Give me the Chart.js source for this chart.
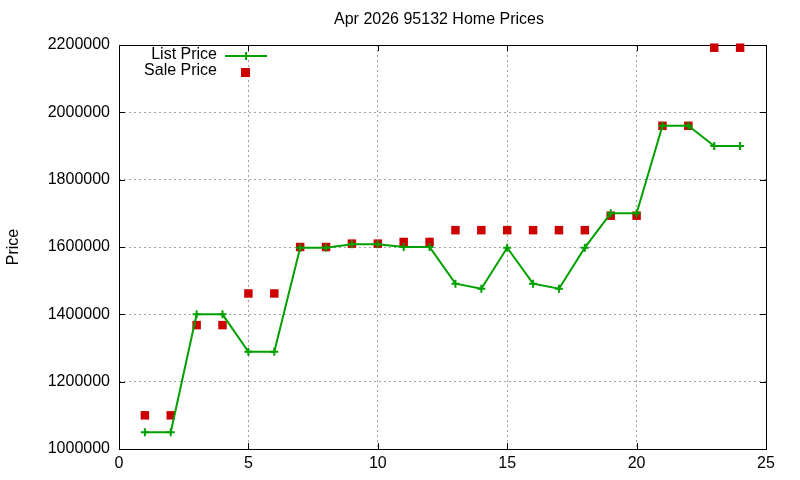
<!DOCTYPE html>
<html>
<head>
<meta charset="utf-8">
<script src="https://cdn.jsdelivr.net/npm/chart.js@4/dist/chart.umd.min.js"></script>
<style>
  html, body { margin: 0; padding: 0; background: #fff; }
  #grafico { display: block; }
</style>
</head>
<body>
<canvas id="grafico" width="800" height="480"></canvas>
<script>
const titulo = "Apr 2026 95132 Home Prices";
const meses = [1, 2, 3, 4, 5, 6, 7, 8, 9, 10, 11, 12, 13, 14, 15, 16, 17, 18, 19, 20, 21, 22, 23, 24];
const precoLista = [1050000, 1050000, 1400000, 1400000, 1289000, 1289000, 1598000, 1598000, 1608000, 1608000,
  1600000, 1600000, 1491000, 1476000, 1598000, 1491000, 1476000, 1598000, 1700000, 1700000,
  1960000, 1960000, 1900000, 1900000];
const precoVenda = [1100000, 1100000, 1368000, 1368000, 1462000, 1462000, 1600000, 1600000, 1610000, 1610000,
  1615000, 1615000, 1650000, 1650000, 1650000, 1650000, 1650000, 1650000, 1693000, 1693000,
  1960000, 1960000, 2192000, 2192000];
const ticksX = [0, 5, 10, 15, 20, 25];
const ticksY = [1000000, 1200000, 1400000, 1600000, 1800000, 2000000, 2200000];

const VERDE = "#00a000";
const VERMELHO = "#cc0000";
const FONTE = "'Liberation Sans', Arial, sans-serif";

// moldura preta com marcas para dentro (estilo gnuplot)
const moldura = {
  id: "moldura",
  beforeDatasetsDraw(chart) {
    const { ctx, chartArea: a, scales } = chart;
    ctx.save();
    ctx.strokeStyle = "#000";
    ctx.lineWidth = 1;
    ctx.beginPath();
    ticksY.forEach(v => {
      const y = Math.round(scales.y.getPixelForValue(v)) + 0.5;
      ctx.moveTo(a.left, y); ctx.lineTo(a.left + 6, y);
      ctx.moveTo(a.right, y); ctx.lineTo(a.right - 6, y);
    });
    ticksX.forEach(v => {
      const x = Math.round(scales.x.getPixelForValue(v)) + 0.5;
      ctx.moveTo(x, a.bottom); ctx.lineTo(x, a.bottom - 6);
      ctx.moveTo(x, a.top); ctx.lineTo(x, a.top + 6);
    });
    ctx.stroke();
    ctx.strokeRect(Math.round(a.left) + 0.5, Math.round(a.top) + 0.5,
      Math.round(a.right - a.left), Math.round(a.bottom - a.top));
    ctx.restore();
  },
  afterDraw(chart) {
    const { ctx } = chart;
    ctx.save();
    ctx.fillStyle = "#000";
    ctx.font = "16px " + FONTE;
    ctx.textBaseline = "middle";
    ctx.textAlign = "center";
    ctx.fillText(titulo, 439, 20);

    // legenda
    ctx.textAlign = "right";
    ctx.fillText("List Price", 217, 55);
    ctx.fillText("Sale Price", 217, 71);
    ctx.strokeStyle = VERDE;
    ctx.lineWidth = 2;
    ctx.beginPath();
    ctx.moveTo(225, 56); ctx.lineTo(267, 56);
    ctx.moveTo(246, 52); ctx.lineTo(246, 60);
    ctx.stroke();
    ctx.fillStyle = VERMELHO;
    ctx.fillRect(241, 68, 9, 9);
    ctx.restore();
  }
};

new Chart(document.getElementById("grafico"), {
  type: "line",
  data: {
    datasets: [
      {
        label: "List Price",
        data: meses.map((m, i) => ({ x: m, y: precoLista[i] })),
        borderColor: VERDE,
        backgroundColor: VERDE,
        borderWidth: 2,
        pointStyle: "cross",
        pointRadius: 4,
        pointBorderWidth: 2,
        tension: 0,
        fill: false,
        clip: false
      },
      {
        label: "Sale Price",
        data: meses.map((m, i) => ({ x: m, y: precoVenda[i] })),
        showLine: false,
        borderColor: VERMELHO,
        backgroundColor: VERMELHO,
        pointStyle: "rect",
        pointRadius: 6,
        pointBorderWidth: 0,
        clip: false
      }
    ]
  },
  options: {
    responsive: false,
    animation: false,
    layout: { padding: { top: 45, right: 34, left: 0, bottom: 0 } },
    plugins: {
      legend: { display: false },
      title: { display: false },
      tooltip: { enabled: false }
    },
    scales: {
      x: {
        type: "linear",
        min: 0,
        max: 25,
        afterBuildTicks: s => { s.ticks = ticksX.map(v => ({ value: v })); },
        afterFit: s => { s.height = 31; },
        ticks: { color: "#000", padding: 5, font: { family: FONTE, size: 16 }, callback: v => String(v) },
        grid: { color: "#a0a0a0", drawTicks: false },
        border: { display: false, dash: [2, 3] }
      },
      y: {
        min: 1000000,
        max: 2200000,
        afterBuildTicks: s => { s.ticks = ticksY.map(v => ({ value: v })); },
        afterFit: s => { s.width = 119; },
        ticks: { color: "#000", padding: 9, font: { family: FONTE, size: 16 }, callback: v => String(v) },
        grid: { color: "#a0a0a0", drawTicks: false },
        border: { display: false, dash: [2, 3] },
        title: {
          display: true,
          text: "Price",
          color: "#000",
          padding: { top: 4, bottom: 0 },
          font: { family: FONTE, size: 16 }
        }
      }
    }
  },
  plugins: [moldura]
});
</script>
</body>
</html>
